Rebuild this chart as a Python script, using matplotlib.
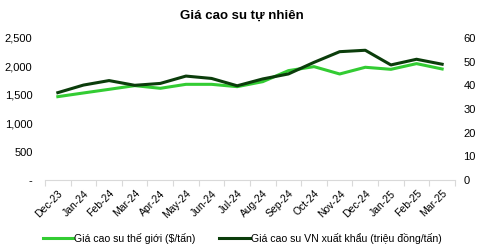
import matplotlib
matplotlib.use("Agg")
import matplotlib.pyplot as plt
from matplotlib.ticker import FuncFormatter, FixedLocator

plt.rcParams['font.family'] = ['Liberation Sans', 'DejaVu Sans']

months = ["Dec-23", "Jan-24", "Feb-24", "Mar-24", "Apr-24", "May-24", "Jun-24", "Jul-24",
          "Aug-24", "Sep-24", "Oct-24", "Nov-24", "Dec-24", "Jan-25", "Feb-25", "Mar-25"]
world_price = [1467, 1532, 1596, 1661, 1614, 1684, 1684, 1643, 1731, 1925, 1995, 1866,
               1984, 1948, 2048, 1954]
vn_export_price = [36.9, 40.1, 42.0, 40.0, 40.8, 43.9, 42.9, 39.8, 42.7, 44.8, 49.7, 54.2,
                   54.8, 48.6, 51.0, 48.9]

fig = plt.figure(figsize=(4.84, 2.48), dpi=100)
ax = fig.add_axes([0.093, 0.274, 0.847, 0.573])
ax2 = ax.twinx()

x = list(range(len(months)))
l1, = ax.plot(x, world_price, color="#33CC33", lw=2.2, label="Giá cao su thế giới ($/tấn)")
l2, = ax2.plot(x, vn_export_price, color="#0B3D0B", lw=2.2, label="Giá cao su VN xuất khẩu (triệu đồng/tấn)")

ax.set_xlim(-0.5, len(months) - 0.5)
ax.set_ylim(0, 2500)
ax2.set_ylim(0, 60)
ax.set_yticks([0, 500, 1000, 1500, 2000, 2500])
ax2.set_yticks([0, 10, 20, 30, 40, 50, 60])
ax.yaxis.set_major_formatter(FuncFormatter(lambda v, p: "-" if v == 0 else f"{int(v):,}"))

ax.xaxis.set_major_locator(FixedLocator([i - 0.5 for i in range(len(months) + 1)]))
ax.xaxis.set_major_formatter(FuncFormatter(lambda v, p: ""))
ax.xaxis.set_minor_locator(FixedLocator(x))
ax.set_xticklabels(months, minor=True, rotation=45, ha="right", rotation_mode="anchor", fontsize=7.5)
ax.tick_params(axis="x", which="major", length=4, color="#D9D9D9", direction="out")
ax.tick_params(axis="x", which="minor", length=0, pad=6)

for a in (ax, ax2):
    for s in a.spines.values():
        s.set_visible(False)
    a.tick_params(axis="y", length=0, labelsize=8)
ax.spines["bottom"].set_visible(True)
ax.spines["bottom"].set_color("#D9D9D9")
ax.tick_params(axis="y", pad=9)
ax2.tick_params(axis="y", pad=6)

fig.text(0.5, 0.935, "Giá cao su tự nhiên", ha="center", va="center", fontsize=9.5, fontweight="bold")

fig.legend(handles=[l1, l2], loc="center", bbox_to_anchor=(0.5, 0.04), ncol=2, frameon=False,
           fontsize=7.6, handlelength=2.9, handletextpad=0.1, columnspacing=2.2)

fig.savefig("out.png", dpi=100)
